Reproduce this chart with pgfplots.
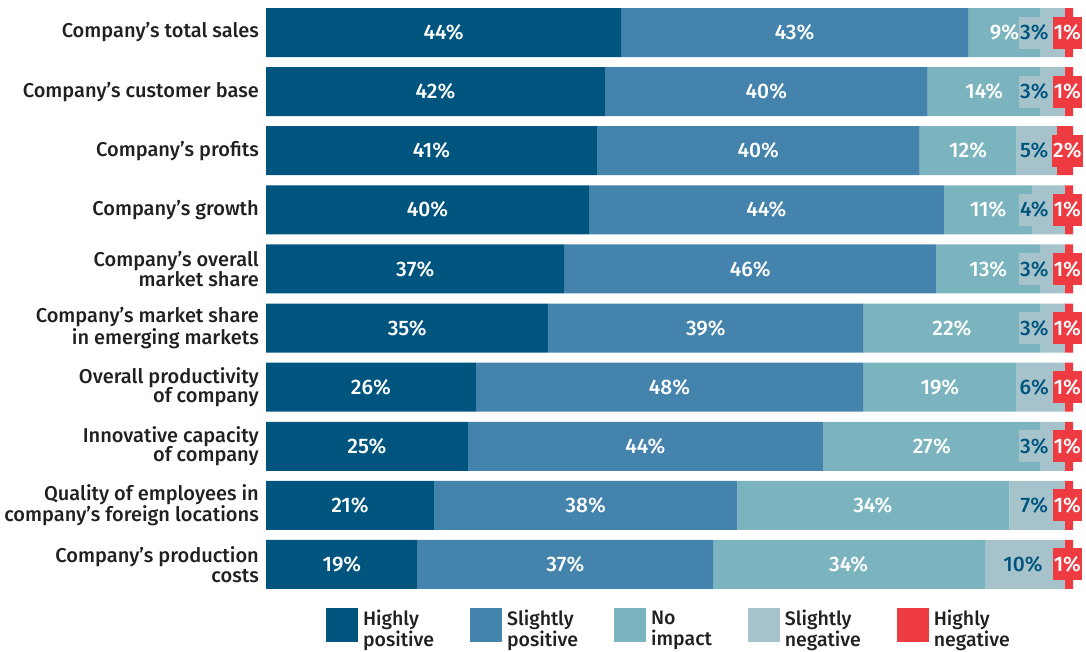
\documentclass[border=0pt]{standalone}
\usepackage{pgfplots}
\pgfplotsset{compat=1.18}
\usepackage{pgfplotstable}
\usepackage{fontspec}
\setmainfont{Fira Sans}[UprightFont={* Medium}]
\definecolor{cHP}{HTML}{00557F}
\definecolor{cSP}{HTML}{4383AC}
\definecolor{cNI}{HTML}{7BB4BF}
\definecolor{cSN}{HTML}{A6C3CB}
\definecolor{cHN}{HTML}{EE3B42}
\definecolor{cTxt}{HTML}{231F20}

\pgfplotstableread{
y hp sp ni sn hn
0 44 43 9 3 1
1 42 40 14 3 1
2 41 40 12 5 2
3 40 44 11 4 1
4 37 46 13 3 1
5 35 39 22 3 1
6 26 48 19 6 1
7 25 44 27 3 1
8 20.8 37.6 33.7 6.9 1
9 18.8 36.6 33.7 9.9 1
}\data

\pgfplotstableread{
y x1 l1 x2 l2 x3 l3 x4 l4 x5 l5
0 22 44 65.5 43 91.5 9 95.2 3 99.3 1
1 21 42 62 40 89 14 95.2 3 99.3 1
2 20.5 41 61 40 87 12 95.2 5 99.3 2
3 20 40 62 44 89.5 11 95.2 4 99.3 1
4 18.5 37 60 46 89.5 13 95.2 3 99.3 1
5 17.5 35 54.5 39 85 22 95.2 3 99.3 1
6 13 26 50 48 83.5 19 95.2 6 99.3 1
7 12.5 25 47 44 82.5 27 95.2 3 99.3 1
8 10.4 21 39.6 38 75.2 34 95.2 7 99.3 1
9 9.4 19 37.1 37 72.2 34 93.8 10 99.3 1
}\labels

\begin{document}
\begin{tikzpicture}
\useasboundingbox (0,0) rectangle (1086pt,652pt);
\begin{axis}[
  at={(266pt,58pt)}, anchor=south west,
  scale only axis, width=807pt, height=591pt,
  xbar stacked, bar width=49pt,
  xmin=0, xmax=100, ymin=-0.5, ymax=9.5,
  y dir=reverse,
  axis line style={draw=none},
  major tick length=0pt,
  xtick=\empty,
  ytick={0,...,9},
  yticklabels={Company’s total sales, Company’s customer base, Company’s profits, Company’s growth, Company’s overall\\market share, Company’s market share\\in emerging markets, Overall productivity\\of company, Innovative capacity\\of company, Quality of employees in\\company’s foreign locations, Company’s production\\costs},
  yticklabel style={align=right, text=cTxt, font=\fontsize{20}{19.5}\selectfont, inner sep=0pt, xshift=-7pt},
  legend style={draw=none, fill=none, at={(axis description cs:0.0705,-0.02)}, anchor=north west,
    legend columns=5, font=\fontsize{19.5}{21}\selectfont, text=cTxt,
    /tikz/every even column/.append style={column sep=31pt},
    cells={align=left},
    nodes={inner xsep=5pt, inner ysep=0pt}},
  legend cell align=left,
  legend image code/.code={\path[#1] (0pt,-13pt) rectangle (32pt,21pt);},
]
\addplot[fill=cHP, draw=none] table[x=hp,y=y]{\data};
\addplot[fill=cSP, draw=none] table[x=sp,y=y]{\data};
\addplot[fill=cNI, draw=none] table[x=ni,y=y]{\data};
\addplot[fill=cSN, draw=none] table[x=sn,y=y]{\data};
\addplot[fill=cHN, draw=none] table[x=hn,y=y]{\data};
\legend{Highly\\positive, Slightly\\positive, No\\impact, Slightly\\negative, Highly\\negative}
\end{axis}
\begin{axis}[
  at={(266pt,58pt)}, anchor=south west,
  scale only axis, width=807pt, height=591pt,
  xmin=0, xmax=100, ymin=-0.5, ymax=9.5,
  y dir=reverse, hide axis,
  nodes near coords={\pgfplotspointmeta\%},
  point meta=explicit symbolic,
  every node near coord/.append style={anchor=center, font=\fontsize{21}{21}\selectfont},
]
\addplot[draw=none, mark=none, nodes near coords style={text=white}] table[x=x1,y=y,meta=l1]{\labels};
\addplot[draw=none, mark=none, nodes near coords style={text=white}] table[x=x2,y=y,meta=l2]{\labels};
\addplot[draw=none, mark=none, nodes near coords style={text=white}] table[x=x3,y=y,meta=l3]{\labels};
\addplot[draw=none, mark=none, nodes near coords style={text=cHP, fill=cSN, inner xsep=1pt, minimum height=32pt}] table[x=x4,y=y,meta=l4]{\labels};
\addplot[draw=none, mark=none, nodes near coords style={text=white, fill=cHN, inner xsep=1pt, minimum height=32pt}] table[x=x5,y=y,meta=l5]{\labels};
\end{axis}
\end{tikzpicture}
\end{document}
